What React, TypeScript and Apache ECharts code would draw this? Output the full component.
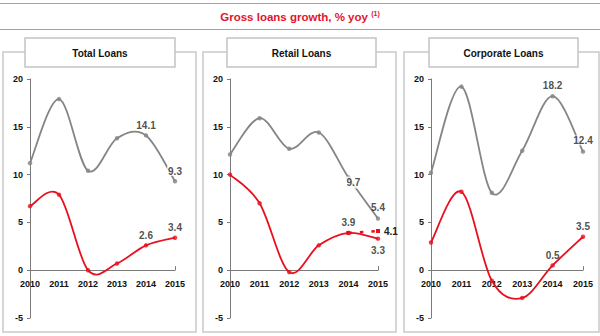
import React, { useEffect, useRef } from "react";
import * as echarts from "echarts";

const years = ["2010", "2011", "2012", "2013", "2014", "2015"];
const yTicks = { min: -5, max: 20, interval: 5 };

const panelTitles = ["Total Loans", "Retail Loans", "Corporate Loans"];

const totalGrey = [11.2, 17.9, 10.4, 13.8, 14.1, 9.3];
const totalRed = [6.7, 7.9, 0.0, 0.7, 2.6, 3.4];
const retailGrey = [12.1, 15.9, 12.7, 14.4, 9.7, 5.4];
const retailRed = [10.0, 7.0, -0.2, 2.6, 3.9, 3.3];
const retailRedAlt = [null, null, null, null, 3.9, 4.1];
const corpGrey = [10.2, 19.2, 8.1, 12.5, 18.2, 12.4];
const corpRed = [2.9, 8.2, -1.1, -2.9, 0.5, 3.5];

const GREY = "#858585";
const RED = "#e8101e";
const FONT = "Liberation Sans, Arial, sans-serif";

const GRID_TOP = 79;
const GRID_H = 239;
// place the category axis at value 0
const zeroOffset = -(GRID_H * (0 - yTicks.min)) / (yTicks.max - yTicks.min);

type LabelSpec = { [idx: number]: any };

function buildData(values: (number | null)[], labels: LabelSpec) {
  return values.map((v, i) => {
    if (v === null) return null;
    const spec = labels[i];
    if (!spec) return { value: [i, v] };
    return {
      value: [i, v],
      label: {
        show: true,
        fontFamily: FONT,
        fontWeight: "bold",
        fontSize: 10,
        color: "#222",
        distance: 3,
        formatter: (p: any) => Number(p.value[1]).toFixed(1),
        ...spec,
      },
    };
  });
}

// Smooth curve (Excel-like Catmull-Rom bezier) drawn through the axes' scales
function curveSeries(idx: number, values: number[], color: string) {
  const n = values.length;
  return {
    type: "custom",
    xAxisIndex: idx,
    yAxisIndex: idx,
    z: color === RED ? 4 : 3,
    silent: true,
    encode: { x: 0, y: 1 },
    data: values.slice(0, n - 1).map((v, i) => [i, v]),
    renderItem: (params: any, api: any) => {
      const i = params.dataIndex;
      const pt = (j: number) => {
        const k = Math.max(0, Math.min(n - 1, j));
        return api.coord([k, values[k]]);
      };
      const p0 = pt(i - 1);
      const p1 = pt(i);
      const p2 = pt(i + 1);
      const p3 = pt(i + 2);
      const t = 1 / 6;
      return {
        type: "bezierCurve",
        shape: {
          x1: p1[0],
          y1: p1[1],
          cpx1: p1[0] + (p2[0] - p0[0]) * t,
          cpy1: p1[1] + (p2[1] - p0[1]) * t,
          cpx2: p2[0] - (p3[0] - p1[0]) * t,
          cpy2: p2[1] - (p3[1] - p1[1]) * t,
          x2: p2[0],
          y2: p2[1],
        },
        style: { stroke: color, lineWidth: 1.8, fill: "none" },
      };
    },
  };
}

function markerSeries(idx: number, values: (number | null)[], color: string, labels: LabelSpec, extra: any = {}) {
  return {
    type: "scatter",
    xAxisIndex: idx,
    yAxisIndex: idx,
    symbol: "circle",
    symbolSize: 4.5,
    itemStyle: { color },
    data: buildData(values, labels),
    z: color === RED ? 6 : 5,
    ...extra,
  };
}

const grids = [
  { left: 30, width: 145 },
  { left: 230, width: 148 },
  { left: 431, width: 152 },
];

export default function App() {
  const ref = useRef<HTMLDivElement>(null);
  useEffect(() => {
    if (!ref.current) return;
    const chart = echarts.init(ref.current, null, { renderer: "svg" });

    const frames = [
      { x: 3, w: 193, tx: 25, tw: 150 },
      { x: 203, w: 193, tx: 227, tw: 149 },
      { x: 404, w: 195, tx: 429, tw: 149 },
    ];

    const graphic: any[] = [
      { type: "line", shape: { x1: 0, y1: 3.5, x2: 600, y2: 3.5 }, style: { stroke: "#f08088", lineWidth: 1.2 }, z: 0 },
      { type: "line", shape: { x1: 0, y1: 29.5, x2: 600, y2: 29.5 }, style: { stroke: "#f08088", lineWidth: 1.2 }, z: 0 },
      {
        type: "text",
        x: 300,
        y: 16.5,
        style: {
          text: "{a|Gross loans growth, % yoy} {b|(1)}",
          align: "center",
          verticalAlign: "middle",
          rich: {
            a: { fontFamily: FONT, fontWeight: "bold", fontSize: 11.5, fill: "#e3142c", lineHeight: 14 },
            b: { fontFamily: FONT, fontWeight: "bold", fontSize: 7, fill: "#e3142c", verticalAlign: "top", lineHeight: 14, padding: [0, 0, 6, 0] },
          },
        },
        z: 10,
      },
    ];
    frames.forEach((f, i) => {
      graphic.push({
        type: "rect",
        shape: { x: f.x, y: 52, width: f.w, height: 280 },
        style: { fill: "none", stroke: "#d6d6d6", lineWidth: 2 },
        z: 0,
      });
      graphic.push({
        type: "rect",
        shape: { x: f.tx, y: 38, width: f.tw, height: 29 },
        style: { fill: "#fff", stroke: "#c4c4c4", lineWidth: 1.5 },
        z: 1,
      });
      graphic.push({
        type: "text",
        x: f.tx + f.tw / 2,
        y: 53,
        style: {
          text: panelTitles[i],
          fontFamily: FONT,
          fontWeight: "bold",
          fontSize: 10,
          fill: "#111",
          align: "center",
          verticalAlign: "middle",
        },
        z: 2,
      });
    });

    const whiteBg = { backgroundColor: "#fff", padding: [0, 1] };

    const option: any = {
      animation: false,
      backgroundColor: "#fff",
      graphic,
      grid: grids.map((g) => ({ left: g.left, width: g.width, top: GRID_TOP, height: GRID_H })),
      xAxis: grids.map((_, i) => ({
        type: "category",
        gridIndex: i,
        data: years,
        boundaryGap: false,
        position: "bottom",
        offset: zeroOffset,
        axisLine: { onZero: false, lineStyle: { color: "#7a7a7a", width: 1 } },
        axisTick: { show: true, inside: true, length: 4, interval: (idx: number) => idx === 5, lineStyle: { color: "#7a7a7a" } },
        axisLabel: { fontFamily: FONT, fontWeight: "bold", fontSize: 9, color: "#111", margin: 9, interval: 0 },
        splitLine: { show: false },
      })),
      yAxis: grids.map((_, i) => ({
        type: "value",
        gridIndex: i,
        min: yTicks.min,
        max: yTicks.max,
        interval: yTicks.interval,
        axisLine: { show: true, lineStyle: { color: "#7a7a7a", width: 1 } },
        axisTick: { show: true, length: 3, lineStyle: { color: "#7a7a7a" } },
        axisLabel: { fontFamily: FONT, fontWeight: "bold", fontSize: 9, color: "#111", margin: 7 },
        splitLine: { show: false },
      })),
      series: [
        curveSeries(0, totalGrey, GREY),
        curveSeries(0, totalRed, RED),
        curveSeries(1, retailGrey, GREY),
        curveSeries(1, retailRed, RED),
        curveSeries(2, corpGrey, GREY),
        curveSeries(2, corpRed, RED),
        markerSeries(0, totalGrey, GREY, { 4: { position: "top" }, 5: { position: "top", ...whiteBg } }),
        markerSeries(0, totalRed, RED, { 4: { position: "top" }, 5: { position: "top" } }),
        markerSeries(1, retailGrey, GREY, {
          4: { position: "inside", offset: [5, 5], backgroundColor: "#fff", padding: [1, 1] },
          5: { position: "top", distance: 4 },
        }),
        markerSeries(1, retailRed, RED, { 4: { position: "top" }, 5: { position: "bottom", distance: 5 } }),
        {
          type: "line",
          xAxisIndex: 1,
          yAxisIndex: 1,
          smooth: false,
          symbol: "rect",
          symbolSize: 4,
          itemStyle: { color: RED },
          lineStyle: { color: RED, width: 2.5, type: [3.5, 8] },
          data: buildData(retailRedAlt, { 5: { position: "right", distance: 4 } }),
          z: 7,
        },
        markerSeries(2, corpGrey, GREY, { 4: { position: "top" }, 5: { position: "top", distance: 4, ...whiteBg } }),
        markerSeries(2, corpRed, RED, { 4: { position: "top" }, 5: { position: "top" } }),
      ],
    };
    chart.setOption(option);
    return () => chart.dispose();
  }, []);
  return <div ref={ref} style={{ width: 600, height: 336, position: "absolute", left: 0, top: 0 }} />;
}
